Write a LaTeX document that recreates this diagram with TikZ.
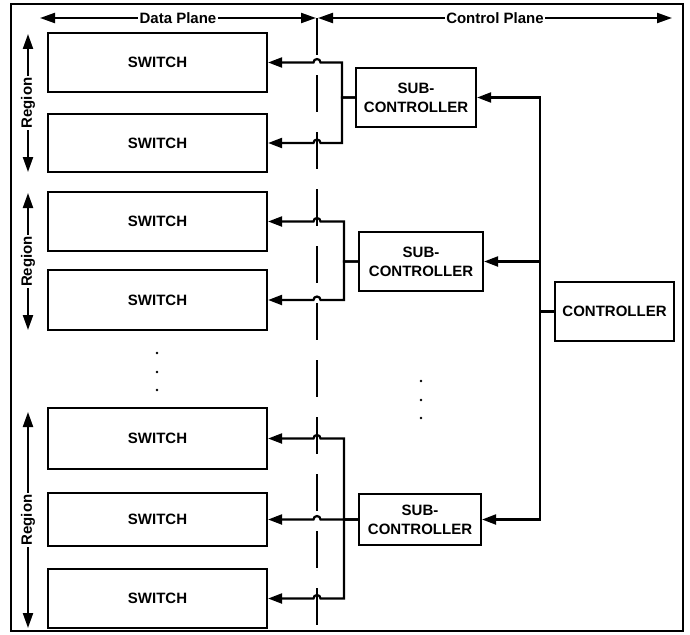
\documentclass[tikz,border=0pt]{standalone}
\usepackage{fontspec}
\setmainfont{Liberation Sans}
\usetikzlibrary{arrows.meta,calc}
\begin{document}
\begin{tikzpicture}[x=1pt,y=-1pt,
  lw/.style={line width=2.2pt},
  arr/.style={lw,line join=miter,-{Triangle[length=14pt,width=10pt]}},
  dbl/.style={lw,{Triangle[length=15pt,width=10pt]}-{Triangle[length=15pt,width=10pt]}},
  txt/.style={font=\fontsize{15}{19}\selectfont\bfseries},
  swbox/.style={draw,lw,txt,minimum width=219pt,inner sep=0pt},
  scbox/.style={draw,lw,txt,align=center,inner sep=0pt},
  lab/.style={txt,fill=white,inner xsep=1.5pt,inner ysep=0pt}]
\useasboundingbox (0,0) rectangle (690,634);
\draw[lw] (11,4) rectangle (683,631);

% header
\coordinate (dl) at (317,18);
\coordinate (hl) at (40,18);
\coordinate (hr) at (672,18);
\coordinate (dle) at (317,626);
\draw[dbl] (hl) -- ([xshift=-1pt]dl) node[midway,lab]{Data Plane};
\draw[dbl] ([xshift=1pt]dl) -- (hr) node[midway,lab]{Control Plane};
\draw[lw,dash pattern=on 37pt off 20pt] (dl) -- (dle);

% switches
\node[swbox,minimum height=59pt] (s1) at (157.5,62.5) {SWITCH};
\node[swbox,minimum height=58pt] (s2) at (157.5,143) {SWITCH};
\node[swbox,minimum height=59pt] (s3) at (157.5,221.5) {SWITCH};
\node[swbox,minimum height=60pt] (s4) at (157.5,300) {SWITCH};
\node[swbox,minimum height=61pt] (s5) at (157.5,438.5) {SWITCH};
\node[swbox,minimum height=53pt] (s6) at (157.5,519.5) {SWITCH};
\node[swbox,minimum height=59pt] (s7) at (157.5,598.5) {SWITCH};

% sub-controllers and controller
\node[scbox,minimum width=120pt,minimum height=59pt] (sc1) at (416,97.5) {SUB-\\CONTROLLER};
\node[scbox,minimum width=124pt,minimum height=59pt] (sc2) at (421,261.5) {SUB-\\CONTROLLER};
\node[scbox,minimum width=122pt,minimum height=51pt] (sc3) at (420,519.5) {SUB-\\CONTROLLER};
\node[swbox,minimum width=119pt,minimum height=59pt] (c) at (614.5,311.5) {CONTROLLER};

% bus positions
\coordinate (bA) at (342,0);
\coordinate (bB) at (344,0);
\coordinate (bC) at (344,0);
\coordinate (cb) at (540,0);

% group 1
\draw[arr] (sc1.west) -- (sc1.west -| bA) |- ($(s1.east -| dl)+(3.5,0)$) arc[start angle=0,end angle=-180,radius=3.5] -- (s1.east);
\draw[arr] (sc1.west) -- (sc1.west -| bA) |- ($(s2.east -| dl)+(3.5,0)$) arc[start angle=0,end angle=-180,radius=3.5] -- (s2.east);
% group 2
\draw[arr] (sc2.west) -- (sc2.west -| bB) |- ($(s3.east -| dl)+(3.5,0)$) arc[start angle=0,end angle=-180,radius=3.5] -- (s3.east);
\draw[arr] (sc2.west) -- (sc2.west -| bB) |- ($(s4.east -| dl)+(3.5,0)$) arc[start angle=0,end angle=-180,radius=3.5] -- (s4.east);
% group 3
\draw[arr] (sc3.west) -- (sc3.west -| bC) |- ($(s5.east -| dl)+(3.5,0)$) arc[start angle=0,end angle=-180,radius=3.5] -- (s5.east);
\draw[arr] (sc3.west) -- ($(s6.east -| dl)+(3.5,0)$) arc[start angle=0,end angle=-180,radius=3.5] -- (s6.east);
\draw[arr] (sc3.west) -- (sc3.west -| bC) |- ($(s7.east -| dl)+(3.5,0)$) arc[start angle=0,end angle=-180,radius=3.5] -- (s7.east);

% controller bus
\draw[arr] (c.west) -- (c.west -| cb) |- (sc1.east);
\draw[arr] (c.west) -- (c.west -| cb) |- (sc3.east);
\draw[arr] (sc2.east -| cb) -- (sc2.east);

% region arrows
\coordinate (r1t) at (28,34);  \coordinate (r1b) at (28,172);
\coordinate (r2t) at (28,193); \coordinate (r2b) at (28,330);
\coordinate (r3t) at (28,412); \coordinate (r3b) at (28,628);
\draw[dbl] (r1t) -- (r1b) node[midway,lab,rotate=90]{Region};
\draw[dbl] (r2t) -- (r2b) node[midway,lab,rotate=90]{Region};
\draw[dbl] (r3t) -- (r3b) node[midway,lab,rotate=90]{Region};

% dots
\foreach \yy in {353,372,390} \fill (157,\yy) circle[radius=1.4];
\foreach \yy in {381,400,418} \fill (421,\yy) circle[radius=1.4];
\end{tikzpicture}
\end{document}
